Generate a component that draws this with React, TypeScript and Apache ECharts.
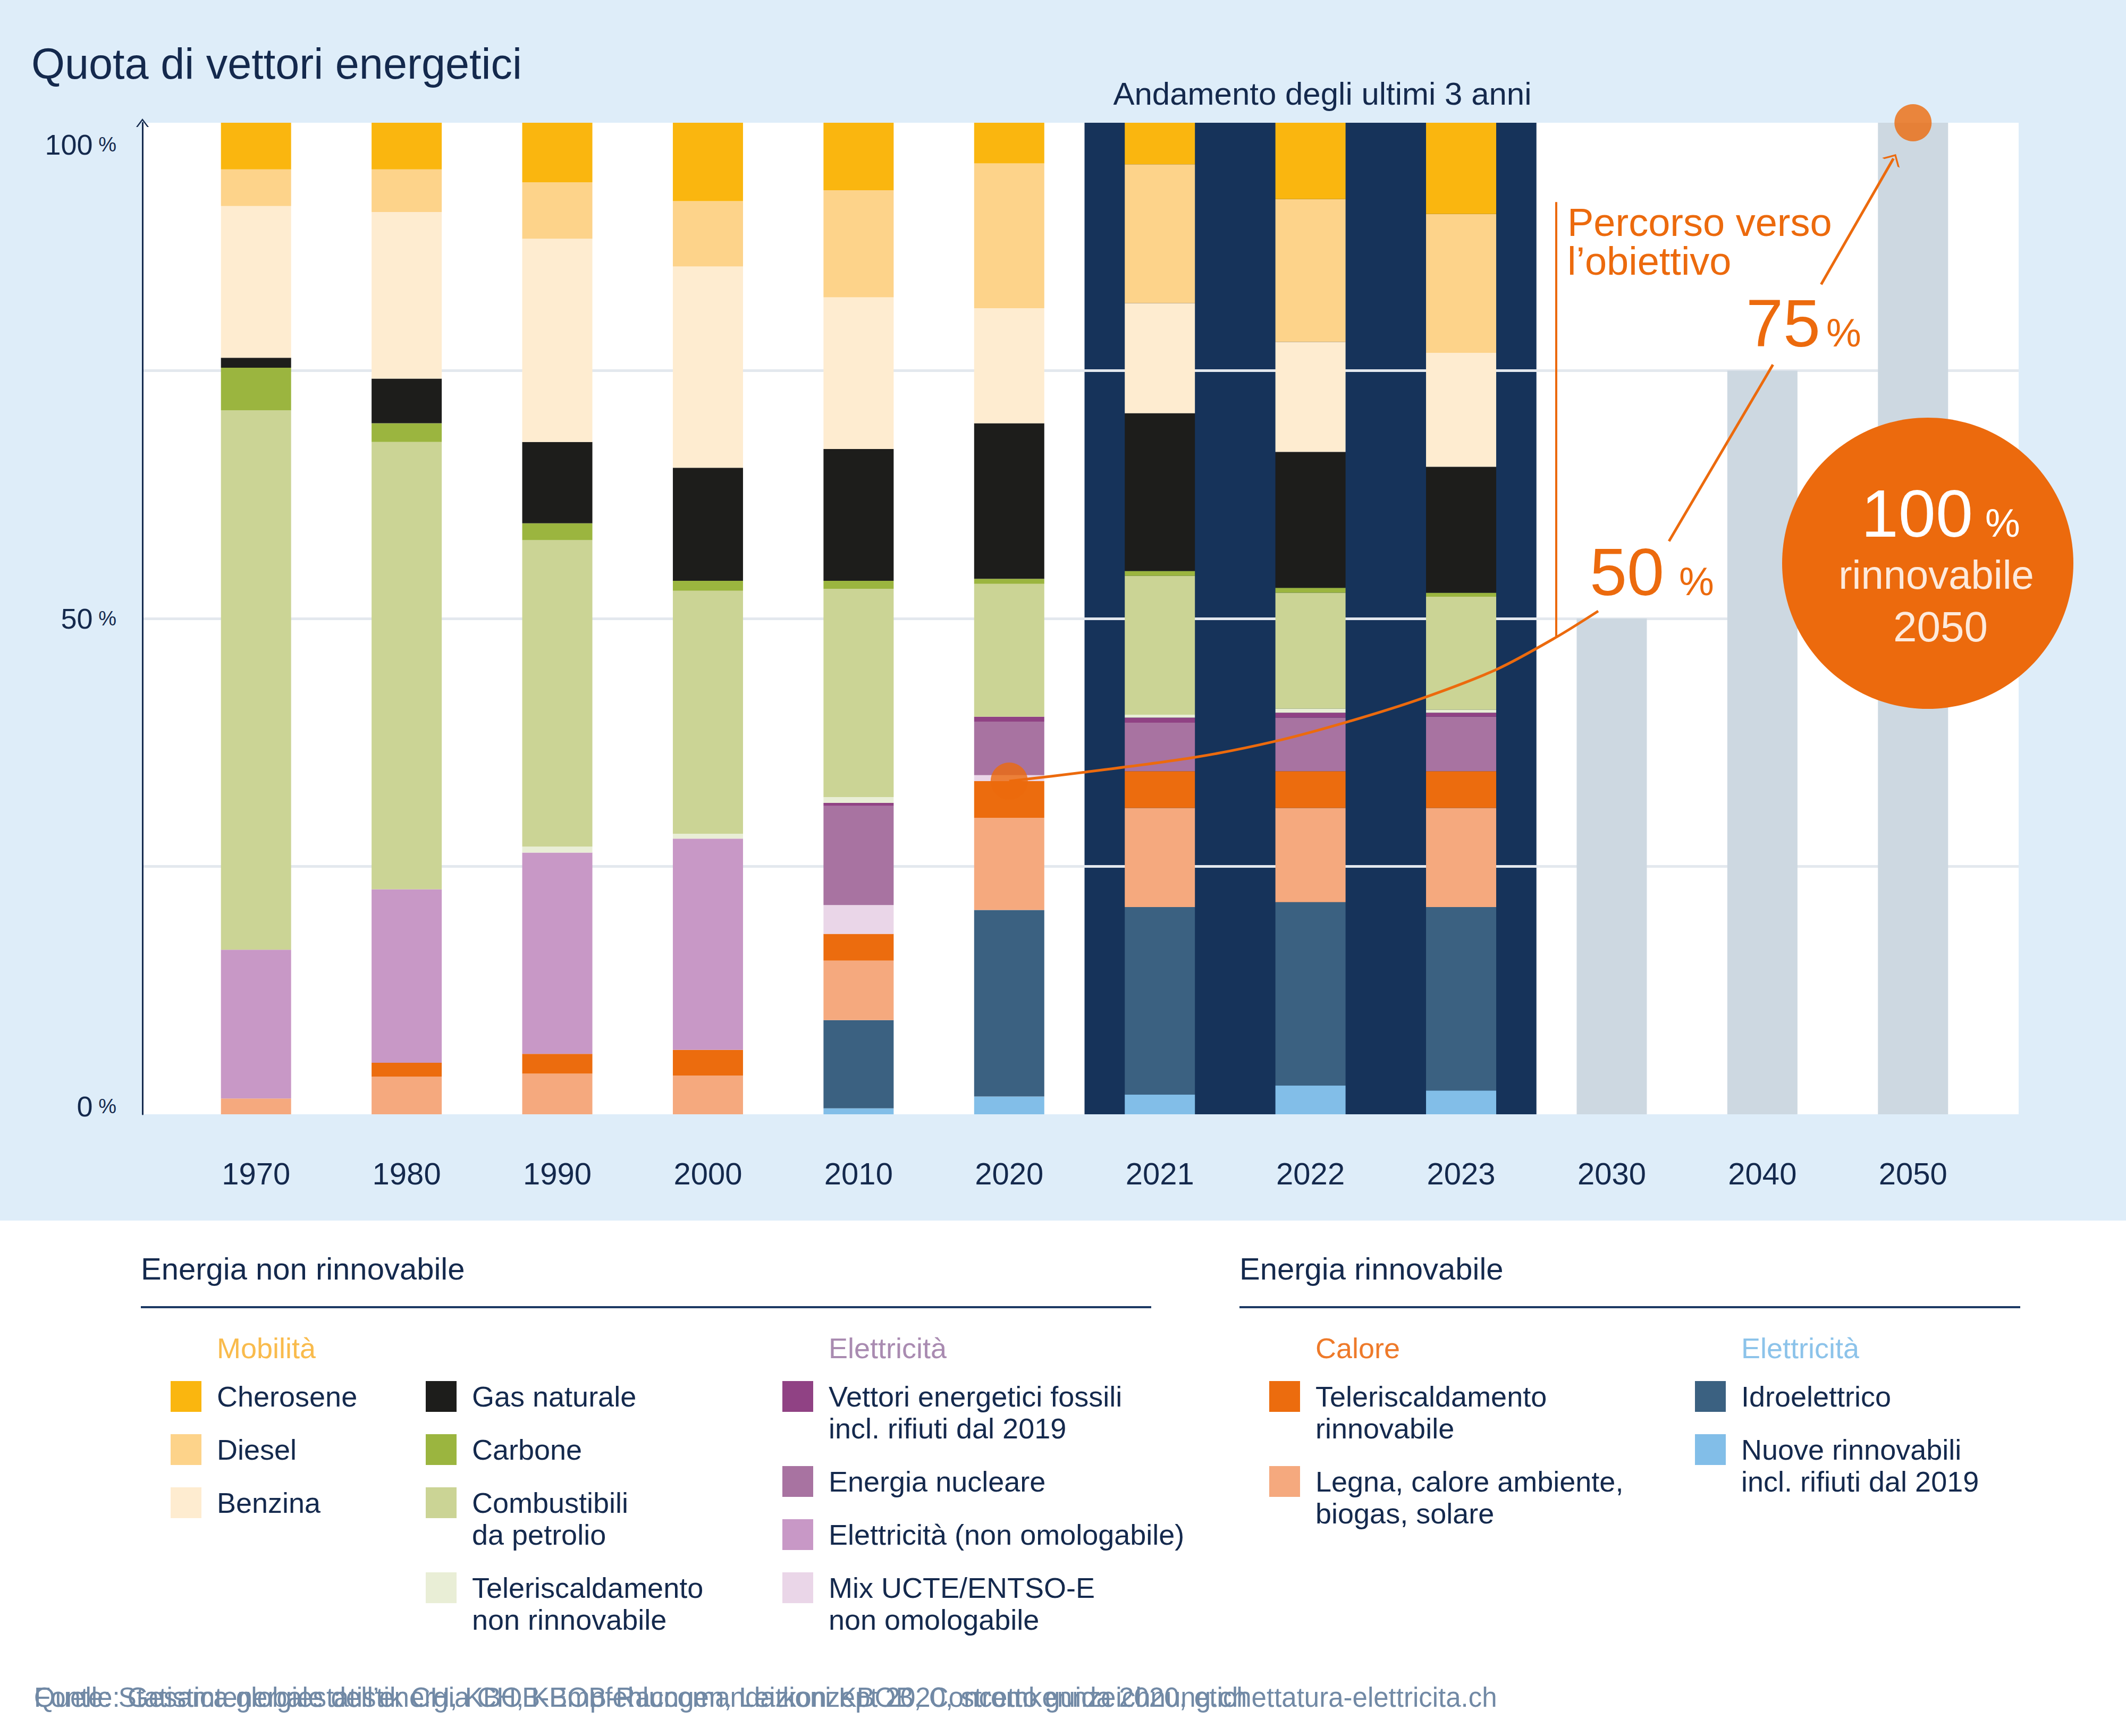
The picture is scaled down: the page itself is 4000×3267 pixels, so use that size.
import * as echarts from 'echarts'
import { useEffect, useRef } from 'react'

const FONT = '"Liberation Sans", Arial, sans-serif'
const NAVY = '#14294d'
const ORANGE = '#ec6a0d'

// categories
const years = ['1970', '1980', '1990', '2000', '2010', '2020', '2021', '2022', '2023', '2030', '2040', '2050']
const recentYears = ['2021', '2022', '2023']

// shares in % for 1970 ... 2023 (stack order: bottom to top)
const nuoveRinnovabili = [0, 0, 0, 0, 0.6, 1.8, 2.0, 2.9, 2.4]
const idroelettrico = [0, 0, 0, 0, 8.9, 18.8, 18.9, 18.5, 18.5]
const legna = [1.6, 3.8, 4.1, 3.9, 6.0, 9.3, 10.0, 9.5, 10.0]
const teleriscRinnovabile = [0, 1.4, 2.0, 2.6, 2.7, 3.7, 3.7, 3.7, 3.7]
const mixUcte = [0, 0, 0, 0, 2.9, 0.6, 0, 0, 0]
const elettricitaNonOmologabile = [15.0, 17.5, 20.3, 21.3, 0, 0, 0, 0, 0]
const nucleare = [0, 0, 0, 0, 10.0, 5.4, 4.9, 5.4, 5.5]
const vettoriFossili = [0, 0, 0, 0, 0.3, 0.5, 0.5, 0.5, 0.4]
const teleriscNonRinnovabile = [0, 0, 0.6, 0.5, 0.6, 0, 0.3, 0.4, 0.3]
const combustibili = [54.4, 45.1, 30.9, 24.5, 21.0, 13.4, 14.0, 11.7, 11.4]
const carbone = [4.3, 1.9, 1.7, 1.0, 0.8, 0.5, 0.5, 0.5, 0.4]
const gasNaturale = [1.0, 4.5, 8.2, 11.4, 13.3, 15.7, 15.9, 13.7, 12.7]
const benzina = [15.3, 16.8, 20.5, 20.3, 15.3, 11.6, 11.1, 11.1, 11.5]
const diesel = [3.7, 4.3, 5.7, 6.6, 10.8, 14.6, 14.0, 14.4, 14.0]
const cherosene = [4.7, 4.7, 6.0, 7.9, 6.8, 4.1, 4.2, 7.7, 9.2]

// targets 2030, 2040, 2050
const obiettivo = [50, 75, 100]

// path towards the target, [category index, %]
const percorsoCurva = [
  [5, 33.6], [5.5, 34.5], [6.23, 36.0], [6.76, 37.6], [7.25, 39.6],
  [7.75, 42.0], [8.24, 44.9], [8.63, 48.1], [8.91, 50.75],
]
const percorso50 = [[9.38, 57.8], [10.07, 75.6]]
const percorso75 = [[10.39, 83.7], [10.87, 96.4]]
const percorsoStanga = [[8.63, 92.0], [8.63, 48.1]]
const puntiPercorso = [[5, 33.6], [11, 100]]

const carriers = [
  { key: 'nuove', label: 'Nuove rinnovabili\nincl. rifiuti dal 2019', values: nuoveRinnovabili, color: '#82bee8' },
  { key: 'idro', label: 'Idroelettrico', values: idroelettrico, color: '#3b6181' },
  { key: 'legna', label: 'Legna, calore ambiente,\nbiogas, solare', values: legna, color: '#f5a97e' },
  { key: 'teleRinn', label: 'Teleriscaldamento\nrinnovabile', values: teleriscRinnovabile, color: '#ec6c0e' },
  { key: 'mix', label: 'Mix UCTE/ENTSO-E\nnon omologabile', values: mixUcte, color: '#ead6e8' },
  { key: 'elett', label: 'Elettricità (non omologabile)', values: elettricitaNonOmologabile, color: '#c898c6' },
  { key: 'nucl', label: 'Energia nucleare', values: nucleare, color: '#a873a1' },
  { key: 'fossili', label: 'Vettori energetici fossili\nincl. rifiuti dal 2019', values: vettoriFossili, color: '#904284' },
  { key: 'teleNon', label: 'Teleriscaldamento\nnon rinnovabile', values: teleriscNonRinnovabile, color: '#e9eed6' },
  { key: 'petrolio', label: 'Combustibili\nda petrolio', values: combustibili, color: '#cbd495' },
  { key: 'carbone', label: 'Carbone', values: carbone, color: '#9bb53f' },
  { key: 'gas', label: 'Gas naturale', values: gasNaturale, color: '#1d1d1b' },
  { key: 'benzina', label: 'Benzina', values: benzina, color: '#feecd0' },
  { key: 'diesel', label: 'Diesel', values: diesel, color: '#fdd38a' },
  { key: 'cherosene', label: 'Cherosene', values: cherosene, color: '#fab60f' },
]

const legendColumns = [
  { title: 'Mobilità', titleColor: '#f9bb4c', x: 321, keys: ['cherosene', 'diesel', 'benzina'] },
  { title: '', titleColor: '', x: 801, keys: ['gas', 'carbone', 'petrolio', 'teleNon'] },
  { title: 'Elettricità', titleColor: '#a98bb1', x: 1472, keys: ['fossili', 'nucl', 'elett', 'mix'] },
  { title: 'Calore', titleColor: '#ee7a2a', x: 2388, keys: ['teleRinn', 'legna'] },
  { title: 'Elettricità', titleColor: '#8cc3ea', x: 3189, keys: ['idro', 'nuove'] },
]

const text = (x: number, y: number, t: string, size: number, fill: string, align = 'left', extra = {}) => ({
  type: 'text',
  x,
  y,
  z: 10,
  silent: true,
  style: { text: t, fontSize: size, fontFamily: FONT, fill, align, verticalAlign: 'middle', ...extra },
})

const buildLegend = () => {
  const els: any[] = []
  legendColumns.forEach((col) => {
    if (col.title) els.push(text(col.x + 87, 2537, col.title, 54, col.titleColor))
    let y = 2628
    col.keys.forEach((k) => {
      const c = carriers.find((d) => d.key === k)!
      const lines = c.label.split('\n').length
      els.push({ type: 'rect', z: 10, silent: true, shape: { x: col.x, y: y - 29, width: 58, height: 58 }, style: { fill: c.color } })
      els.push({
        type: 'text', x: col.x + 87, y: y - 30, z: 10, silent: true,
        style: { text: c.label, fontSize: 54, fontFamily: FONT, fill: NAVY, lineHeight: 60, verticalAlign: 'top' },
      })
      y += lines * 60 + 40
    })
  })
  return els
}

const pad = (arr: number[]) => [...arr, null, null, null]

const App = () => {
  const chartRef = useRef<HTMLDivElement>(null)

  useEffect(() => {
    document.body.style.margin = '0'
    const chart = echarts.init(chartRef.current, null, { renderer: 'svg' })

    const arrowPath = 'path://M0,20 L20,0 L40,20 L35,20 L20,5 L5,20 Z'
    // the dark band covers the whole category slots of the last 3 years
    const band = [[years.indexOf(recentYears[0]) - 0.5, years.indexOf(recentYears[recentYears.length - 1]) + 0.5]]

    const option = {
      animation: false,
      backgroundColor: '#ffffff',
      grid: [
        { left: 268, right: 202, top: 231, bottom: 1170, show: true, backgroundColor: '#ffffff', borderWidth: 0, z: 0 },
        { left: 340, right: 259, top: 231, bottom: 1170, z: 0 },
      ],
      xAxis: [
        { gridIndex: 0, type: 'value', min: 0, max: 1, show: false },
        {
          gridIndex: 1,
          type: 'category',
          data: years,
          axisLine: { show: false },
          axisTick: { show: false },
          axisLabel: { fontSize: 58, fontFamily: FONT, color: NAVY, margin: 82 },
        },
        { gridIndex: 1, type: 'value', min: -0.5, max: 11.5, show: false },
      ],
      yAxis: [
        {
          gridIndex: 0,
          type: 'value',
          min: 0,
          max: 100,
          interval: 25,
          z: 2,
          axisLine: {
            show: true,
            symbol: ['none', 'path://M0,16 L12,0 L24,16 L21,16 L12,4 L3,16 Z'],
            symbolSize: [24, 16],
            lineStyle: { color: NAVY, width: 3 },
          },
          axisTick: { show: false },
          splitLine: { show: true, showMinLine: false, showMaxLine: false, lineStyle: { color: '#e3e8ee', width: 5 } },
          axisLabel: {
            margin: 49,
            color: NAVY,
            fontFamily: FONT,
            formatter: (v: number) =>
              v === 100 ? '{t|100}{tp| %}' : v === 50 ? '{m|50}{mp| %}' : v === 0 ? '{b|0}{bp| %}' : '',
            rich: {
              t: { fontSize: 54, fontFamily: FONT, color: NAVY, padding: [82, 0, 0, 0] },
              tp: { fontSize: 38, fontFamily: FONT, color: NAVY, padding: [82, 0, 0, 0] },
              m: { fontSize: 54, fontFamily: FONT, color: NAVY },
              mp: { fontSize: 38, fontFamily: FONT, color: NAVY },
              b: { fontSize: 54, fontFamily: FONT, color: NAVY, padding: [0, 0, 30, 0] },
              bp: { fontSize: 38, fontFamily: FONT, color: NAVY, padding: [0, 0, 30, 0] },
            },
          },
        },
        { gridIndex: 1, type: 'value', min: 0, max: 100, show: false },
      ],
      series: [
        {
          name: 'Andamento degli ultimi 3 anni',
          type: 'custom',
          xAxisIndex: 2,
          yAxisIndex: 1,
          silent: true,
          z: 1,
          data: band,
          renderItem: (_params: any, api: any) => {
            const p0 = api.coord([api.value(0), 100])
            const p1 = api.coord([api.value(1), 0])
            return {
              type: 'rect',
              shape: { x: p0[0], y: p0[1], width: p1[0] - p0[0], height: p1[1] - p0[1] },
              style: { fill: '#16335a' },
            }
          },
        },
        ...carriers.map((c) => ({
          name: c.label,
          type: 'bar',
          stack: 'quota',
          xAxisIndex: 1,
          yAxisIndex: 1,
          barWidth: 132,
          z: 3,
          silent: true,
          itemStyle: { color: c.color },
          data: pad(c.values),
        })),
        {
          name: 'Obiettivo',
          type: 'bar',
          stack: 'quota',
          xAxisIndex: 1,
          yAxisIndex: 1,
          barWidth: 132,
          z: 3,
          silent: true,
          itemStyle: { color: '#cdd8e1' },
          data: [null, null, null, null, null, null, null, null, null, ...obiettivo],
        },
        {
          name: 'Percorso verso l’obiettivo',
          type: 'line',
          xAxisIndex: 2,
          yAxisIndex: 1,
          smooth: 0.3,
          showSymbol: false,
          silent: true,
          z: 4,
          lineStyle: { color: ORANGE, width: 5 },
          data: percorsoCurva,
          markLine: {
            silent: true,
            symbol: ['none', 'none'],
            label: { show: false },
            lineStyle: { color: ORANGE, width: 5, type: 'solid' },
            data: [
              [{ coord: percorso50[0] }, { coord: percorso50[1] }],
              [{ coord: percorso75[0] }, { coord: percorso75[1], symbol: arrowPath, symbolSize: [38, 19] }],
              [{ coord: percorsoStanga[0], lineStyle: { width: 4 } }, { coord: percorsoStanga[1] }],
            ],
          },
        },
        {
          name: 'Punti',
          type: 'scatter',
          xAxisIndex: 2,
          yAxisIndex: 1,
          symbolSize: 70,
          silent: true,
          z: 5,
          itemStyle: { color: ORANGE },
          data: puntiPercorso,
        },
      ],
      graphic: [
        { type: 'rect', z: -10, silent: true, shape: { x: 0, y: 0, width: 4000, height: 2297 }, style: { fill: '#deedf9' } },
        text(59, 120, 'Quota di vettori energetici', 81, NAVY),
        text(2488, 176, 'Andamento degli ultimi 3 anni', 60, NAVY, 'center'),
        text(2949, 455, 'Percorso verso\nl’obiettivo', 74, ORANGE, 'left', { lineHeight: 73 }),
        text(2991, 1076, '50', 126, ORANGE),
        text(3159, 1094, '%', 74, ORANGE),
        text(3285, 608, '75', 126, ORANGE),
        text(3436, 626, '%', 74, ORANGE),
        { type: 'circle', z: 9, silent: true, shape: { cx: 3627, cy: 1060, r: 274 }, style: { fill: ORANGE } },
        text(3712, 966, '100', 126, '#ffffff', 'right'),
        text(3735, 984, '%', 74, '#ffffff'),
        text(3643, 1081, 'rinnovabile', 76, '#fdeadc', 'center'),
        text(3651, 1179, '2050', 80, '#fdeadc', 'center'),
        // legend
        text(265, 2387, 'Energia non rinnovabile', 58, NAVY),
        text(2332, 2387, 'Energia rinnovabile', 58, NAVY),
        { type: 'line', z: 10, silent: true, shape: { x1: 265, y1: 2460, x2: 2166, y2: 2460 }, style: { stroke: '#1d3a64', lineWidth: 4 } },
        { type: 'line', z: 10, silent: true, shape: { x1: 2332, y1: 2460, x2: 3801, y2: 2460 }, style: { stroke: '#1d3a64', lineWidth: 4 } },
        ...buildLegend(),
        // source (both language versions printed on top of each other)
        text(64, 3194, 'Fonte: Statistica globale dell’energia CH, KBOB-Raccomandazioni KBOB, Concetto guida 2020, etichettatura-elettricita.ch', 51, '#7189a5'),
        text(64, 3194, 'Quelle: Gesamtenergiestatistik CH, KBOB-Empfehlungen, Leitkonzept 2020, stromkennzeichnung.ch', 51, '#7189a5'),
      ],
    }

    chart.setOption(option as any)
    return () => chart.dispose()
  }, [])

  return <div ref={chartRef} style={{ width: 4000, height: 3267 }} />
}

export default App
